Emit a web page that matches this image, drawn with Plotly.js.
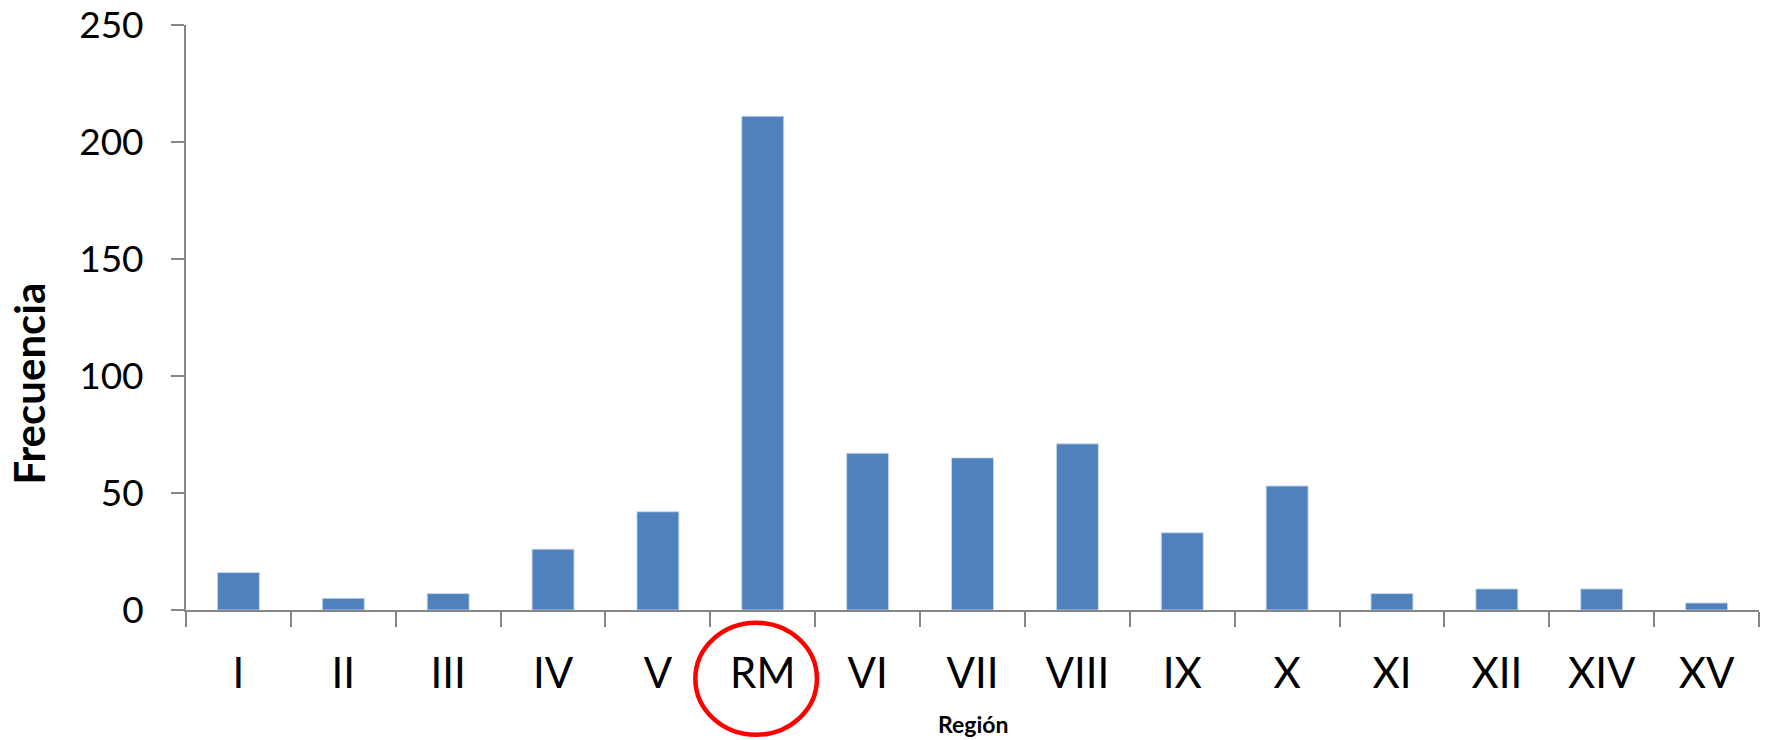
<!DOCTYPE html>
<html>
<head>
<meta charset="utf-8">
<script src="https://cdn.plot.ly/plotly-3.0.1.min.js"></script>
<style>html,body{margin:0;padding:0;background:#fff;}#chart{width:1765px;height:740px;}</style>
</head>
<body>
<div id="chart"></div>
<script>
const regions = ["I","II","III","IV","V","RM","VI","VII","VIII","IX","X","XI","XII","XIV","XV"];
const frequency = [16,5,7,26,42,211,67,65,71,33,53,7,9,9,3];
const yTicks = [0,50,100,150,200,250];
const yTitle = "Frecuencia";
const xTitle = "Región";

const axisColor = "#868686";
const trace = {
  type: "bar",
  x: regions,
  y: frequency,
  marker: {color: "#4F81BD", line: {color: "rgba(200,215,235,0.9)", width: 1}},
  hoverinfo: "x+y"
};

const layout = {
  width: 1765, height: 740,
  margin: {l: 186, r: 6, t: 25, b: 130},
  paper_bgcolor: "#fff", plot_bgcolor: "#fff",
  showlegend: false,
  bargap: 0.6,
  font: {family: "Lato, 'Open Sans', sans-serif", color: "#000"},
  xaxis: {
    type: "category",
    tickson: "boundaries",
    ticks: "outside", ticklen: 15, tickwidth: 2, tickcolor: axisColor,
    showline: true, linecolor: axisColor, linewidth: 2,
    showgrid: false, zeroline: false,
    tickfont: {family: "Lato, sans-serif", size: 42, color: "#000"},
    ticklabelstandoff: 26
  },
  yaxis: {
    range: [0, 250],
    tickvals: yTicks,
    ticks: "outside", ticklen: 13, tickwidth: 2, tickcolor: axisColor,
    showline: true, linecolor: axisColor, linewidth: 2,
    showgrid: false, zeroline: false,
    tickfont: {family: "Lato, sans-serif", size: 37, color: "#000"},
    ticklabelstandoff: 20
  },
  annotations: [
    {text: "<b>" + yTitle + "</b>", xref: "paper", yref: "paper", x: -0.0995, y: 0.388,
     xanchor: "center", yanchor: "middle", textangle: -90, showarrow: false,
     font: {family: "Lato, sans-serif", size: 42, color: "#000"}},
    {text: "<b>" + xTitle + "</b>", xref: "paper", yref: "paper", x: 0.5, y: -0.195,
     xanchor: "center", yanchor: "middle", showarrow: false,
     font: {family: "Lato, sans-serif", size: 23, color: "#000"}}
  ],
  shapes: [
    {type: "circle", xref: "paper", yref: "paper", x0: 0.3238, x1: 0.4011, y0: -0.0217, y1: -0.2132,
     line: {color: "#FF0000", width: 4.5}, fillcolor: "rgba(0,0,0,0)"}
  ]
};

Plotly.newPlot("chart", [trace], layout, {displayModeBar: false, staticPlot: true});
</script>
</body>
</html>
